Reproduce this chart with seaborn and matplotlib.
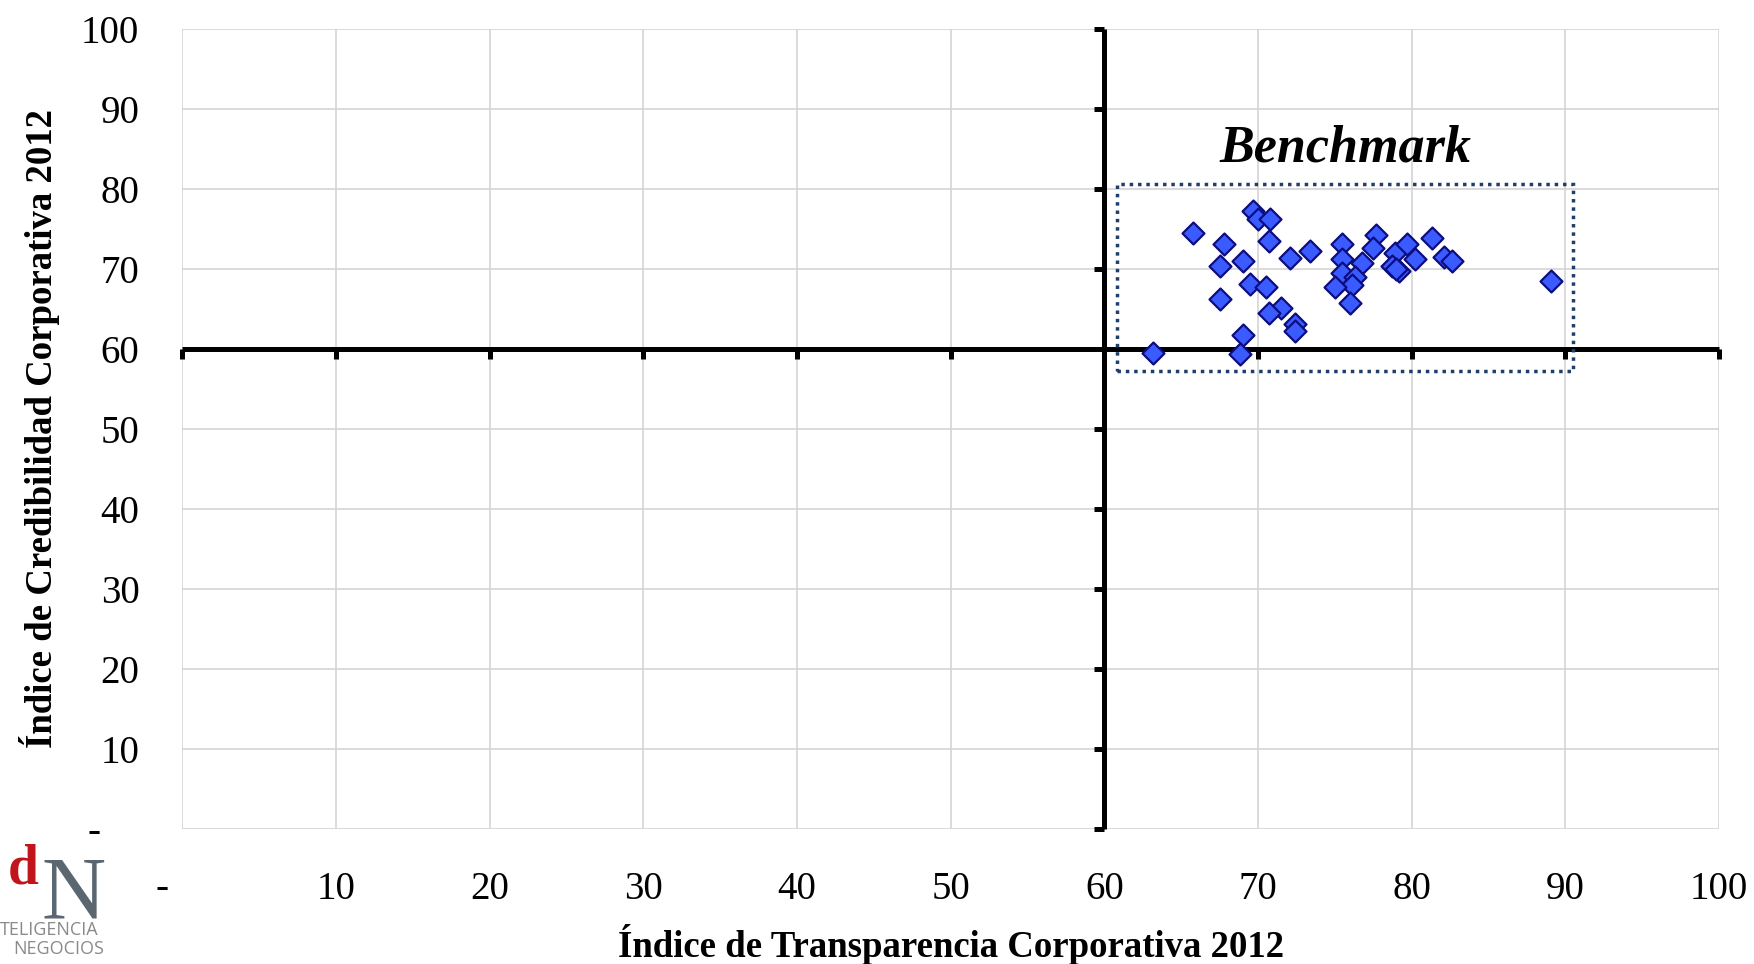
import numpy as np
import pandas as pd
import matplotlib
matplotlib.use("Agg")
import matplotlib.pyplot as plt
import seaborn as sns
from matplotlib.patches import Rectangle

# ---- data ----
transparencia = [63.2, 65.8, 67.8, 67.5, 69.0, 67.5, 69.0, 68.8, 69.7, 70.0,
                 70.8, 70.7, 69.5, 70.5, 71.5, 70.7, 72.4, 72.4, 72.1, 73.4,
                 75.5, 75.5, 76.8, 75.5, 76.3, 76.1, 75.0, 76.0, 77.7, 77.5,
                 78.9, 79.7, 80.2, 78.7, 79.2, 79.0, 81.3, 82.1, 82.6, 89.1]
credibilidad = [59.5, 74.5, 73.1, 70.4, 71.0, 66.3, 61.8, 59.4, 77.3, 76.2,
                76.3, 73.5, 68.1, 67.7, 65.1, 64.5, 63.1, 62.3, 71.4, 72.3,
                73.1, 71.3, 70.7, 69.5, 69.0, 68.0, 67.8, 65.8, 74.3, 72.6,
                72.0, 73.1, 71.3, 70.4, 69.7, 70.0, 73.9, 71.5, 71.0, 68.5]
x_ticks = [0, 10, 20, 30, 40, 50, 60, 70, 80, 90, 100]
x_ticklabels = ["", "10", "20", "30", "40", "50", "60", "70", "80", "90", "100"]
y_ticks = [0, 10, 20, 30, 40, 50, 60, 70, 80, 90, 100]
y_ticklabels = ["", "10", "20", "30", "40", "50", "60", "70", "80", "90", "100"]
zero_label = "-"
benchmark_box = {"x0": 60.8, "x1": 90.5, "y0": 57.2, "y1": 80.6}
benchmark_text = "Benchmark"
benchmark_pos = (75.7, 85.0)
x_title = "Índice de Transparencia Corporativa 2012"
y_title = "Índice de Credibilidad Corporativa 2012"

df = pd.DataFrame({"transparencia": transparencia, "credibilidad": credibilidad})

sns.set_style("white")
plt.rcParams["font.family"] = ["Liberation Serif", "DejaVu Serif"]
plt.rcParams["text.color"] = "black"
plt.rcParams["axes.labelcolor"] = "black"
plt.rcParams["xtick.color"] = "black"
plt.rcParams["ytick.color"] = "black"

fig = plt.figure(figsize=(17.54, 9.64), dpi=100)
pos = [0.104, 0.140, 0.876, 0.830]

# background axes: grid + tick labels
ax = fig.add_axes(pos)
ax.set_xlim(0, 100)
ax.set_ylim(0, 100)
ax.set_xticks(x_ticks)
ax.set_xticklabels(x_ticklabels)
ax.set_yticks(y_ticks)
ax.set_yticklabels(y_ticklabels)
ax.grid(True, color="#D4D4D4", linewidth=1.2)
for s in ax.spines.values():
    s.set_visible(False)
ax.tick_params(axis="x", length=0, pad=30, labelsize=28, labelcolor="black")
ax.tick_params(axis="y", length=0, pad=31, labelsize=28, labelcolor="black")
ax.set_xlabel(x_title, fontsize=26.5, fontweight="bold", labelpad=12, color="black")
ax.set_ylabel(y_title, fontsize=26.5, fontweight="bold", labelpad=15, color="black")

ax.annotate(zero_label, xy=(0, 0), xycoords="data", xytext=(-15, -50),
            textcoords="offset points", ha="center", va="baseline", fontsize=28)
ax.annotate(zero_label, xy=(0, 0), xycoords="data", xytext=(-64, -9),
            textcoords="offset points", ha="center", va="baseline", fontsize=28)

# foreground axes: crossing axes at 60 + data
ax2 = fig.add_axes(pos, sharex=ax, sharey=ax)
ax2.patch.set_alpha(0)
ax2.spines["top"].set_visible(False)
ax2.spines["right"].set_visible(False)
ax2.spines["left"].set_position(("data", 60))
ax2.spines["bottom"].set_position(("data", 60))
for k in ("left", "bottom"):
    ax2.spines[k].set_linewidth(3.6)
    ax2.spines[k].set_color("black")
    ax2.spines[k].set_capstyle("butt")
ax2.set_xticks(x_ticks)
ax2.set_yticks(y_ticks)
ax2.tick_params(direction="out", length=7.5, width=3.6, color="black",
                bottom=True, left=True, top=False, right=False,
                labelbottom=False, labelleft=False)

bx = benchmark_box
ax2.add_patch(Rectangle((bx["x0"], bx["y0"]), bx["x1"] - bx["x0"], bx["y1"] - bx["y0"],
                        fill=False, edgecolor="#1F3F6A", linewidth=2.5,
                        linestyle=(0, (1, 1.4)), zorder=3))

sns.scatterplot(data=df, x="transparencia", y="credibilidad", ax=ax2, marker="D",
                s=125, color="#3A5BFF", edgecolor="#0D0D80", linewidth=1.6,
                zorder=5, legend=False)
ax2.set_xlabel("")
ax2.set_ylabel("")
ax2.set_xlim(0, 100)
ax2.set_ylim(0, 100)

ax2.text(benchmark_pos[0], benchmark_pos[1], benchmark_text, ha="center", va="center",
         fontsize=37.5, fontweight="bold", fontstyle="italic", color="black")

# logo (bottom-left)
fig.text(8 / 1754, 1 - 884 / 964, "d", color="#C0161B", fontsize=40, fontweight="bold",
         family=["Liberation Serif"], ha="left", va="baseline")
fig.text(42 / 1754, 1 - 917 / 964, "N", color="#5B6770", fontsize=64,
         family=["Liberation Serif"], ha="left", va="baseline")
fig.text(0 / 1754, 1 - 935 / 964, "TELIGENCIA", color="#8A8A8A", fontsize=13,
         family=["Open Sans", "DejaVu Sans"], ha="left", va="baseline")
fig.text(13 / 1754, 1 - 954 / 964, "NEGOCIOS", color="#8A8A8A", fontsize=13,
         family=["Open Sans", "DejaVu Sans"], ha="left", va="baseline")

fig.savefig("out.png", dpi=100)
